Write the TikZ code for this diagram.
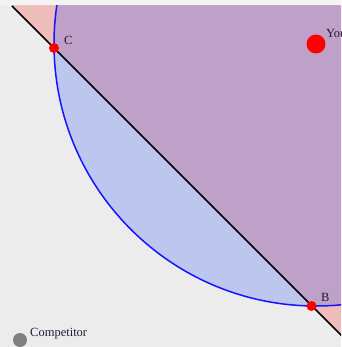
\documentclass[tikz,border=0pt]{standalone}
\usepackage{fontspec}
\setmainfont{Liberation Serif}
\usetikzlibrary{positioning}
\definecolor{plotbg}{RGB}{236,236,236}
\definecolor{topbar}{RGB}{243,243,243}
\definecolor{reach}{RGB}{0,50,255}
\definecolor{rim}{RGB}{20,20,255}
\definecolor{ink}{RGB}{30,30,50}

\tikzset{
  dot/.style={circle, fill=red, inner sep=0pt, minimum size=#1},
  tag/.style={anchor=base west, inner sep=0pt, text=ink, font=\fontsize{12.5}{14}\selectfont},
}

\begin{document}
\begin{tikzpicture}[x=1pt, y=-1pt]
        \useasboundingbox (0,0) rectangle (341,347);
        \fill[topbar] (0,0) rectangle (341,6);
        \fill[plotbg] (0,6) rectangle (341,347);

        % points
        \coordinate (you) at (316,44);
        \coordinate (lineTop) at (12,6);
        \coordinate (lineBot) at (350,344);

        \begin{scope}
            \clip (0,6) rectangle (341,347);
            % half-plane on the side of You
            \fill[red, fill opacity=0.2] (-10,-16) -- (400,394) -- (400,-16) -- cycle;
            % reach circle
            \fill[reach, fill opacity=0.2] (you) circle[radius=262pt];
            \draw[rim, line width=1.5pt] (you) circle[radius=262pt];
            \draw[black, line width=1.7pt] (lineTop) -- (lineBot);
        \end{scope}

        \node[dot=19pt] (youDot) at (you) {};
        \node[dot=10pt] (cDot) at (54,48) {};
        \node[dot=10pt] (bDot) at (311.5,306) {};
        \node[dot=14pt, fill=black!50] (compDot) at (20,340) {};

        \node[tag] (youLbl) at (326,38) {You};
        \node[tag] (cLbl) at (64,45) {C};
        \node[tag] (bLbl) at (321,301) {B};
        \node[tag] (compLbl) at (30,336) {Competitor};
    \end{tikzpicture}
\end{document}
